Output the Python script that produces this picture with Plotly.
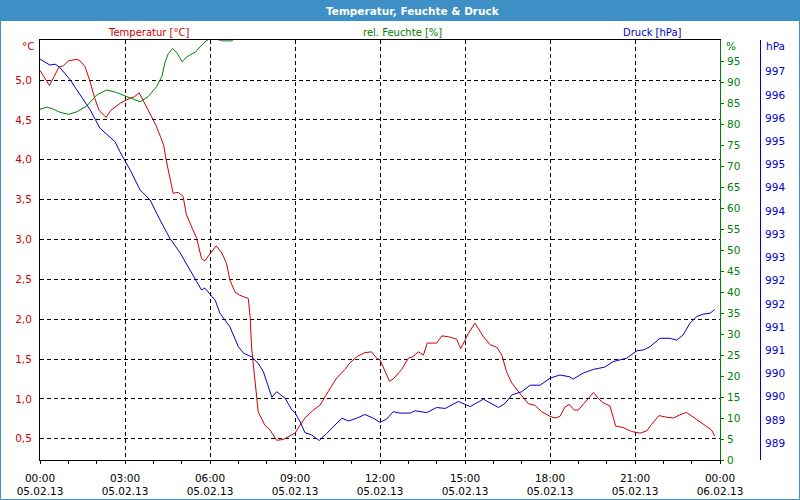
import pandas as pd
import plotly.graph_objects as go

DAY = "2013-02-05"

# ---------------- data ----------------
temp_times = [
    "00:00", "00:20", "00:40", "00:50", "01:00", "01:18", "01:25", "01:35", "01:45", "01:55",
    "02:05", "02:20", "02:30", "02:50", "03:10", "03:20", "03:30", "03:40", "03:50", "04:05",
    "04:15", "04:22", "04:27", "04:35", "04:42", "04:53", "05:03", "05:10", "05:21", "05:32",
    "05:42", "05:49", "06:00", "06:13", "06:25", "06:35", "06:42", "06:53", "07:03", "07:21",
    "07:25", "07:28", "07:33", "07:39", "07:42", "07:56", "08:07", "08:21", "08:35", "09:00",
    "09:21", "09:39", "09:53", "10:10", "10:28", "10:46", "10:56", "11:11", "11:28", "11:42",
    "11:53", "12:00", "12:20", "12:28", "12:46", "13:00", "13:10", "13:21", "13:32", "13:40",
    "14:00", "14:11", "14:25", "14:42", "14:51", "15:07", "15:21", "15:39", "15:53", "16:07",
    "16:18", "16:28", "16:39", "16:56", "17:14", "17:28", "17:42", "18:00", "18:11", "18:21",
    "18:32", "18:41", "18:51", "19:00", "19:18", "19:32", "19:42", "19:50", "20:07", "20:19",
    "20:35", "20:53", "21:11", "21:25", "21:35", "21:51", "22:07", "22:21", "22:35", "22:49",
    "23:11", "23:28", "23:42", "23:49",
]
temperature = [
    5.12, 4.93, 5.16, 5.18, 5.24, 5.26, 5.24, 5.17, 5.00, 4.79,
    4.62, 4.53, 4.62, 4.71, 4.77, 4.79, 4.84, 4.73, 4.62, 4.44,
    4.29, 4.18, 4.00, 3.75, 3.58, 3.59, 3.54, 3.31, 3.16, 3.01,
    2.76, 2.73, 2.82, 2.92, 2.83, 2.70, 2.49, 2.34, 2.30, 2.26,
    2.03, 1.65, 1.36, 1.03, 0.84, 0.67, 0.61, 0.48, 0.49, 0.57,
    0.76, 0.86, 0.92, 1.09, 1.26, 1.37, 1.45, 1.53, 1.58, 1.59,
    1.51, 1.49, 1.22, 1.25, 1.37, 1.51, 1.53, 1.59, 1.55, 1.70,
    1.70, 1.79, 1.78, 1.75, 1.63, 1.82, 1.95, 1.78, 1.68, 1.65,
    1.55, 1.34, 1.20, 1.07, 0.94, 0.92, 0.84, 0.78, 0.76, 0.78,
    0.90, 0.93, 0.86, 0.86, 0.99, 1.08, 1.01, 0.96, 0.91, 0.66,
    0.64, 0.59, 0.57, 0.60, 0.68, 0.79, 0.77, 0.76, 0.80, 0.83,
    0.74, 0.67, 0.61, 0.53,
]

hum_times = [
    "00:00", "00:14", "00:25", "00:42", "01:00", "01:18", "01:39", "02:00", "02:21", "02:42",
    "03:04", "03:32", "03:49", "04:07", "04:18", "04:25", "04:32", "04:41", "04:51", "05:01",
    "05:11", "05:30", "05:39", "05:52", "06:04", "06:25", "06:46", "06:55",
]
humidity = [
    83.5, 84.0, 83.7, 82.8, 82.3, 82.9, 84.3, 86.9, 88.1, 87.5,
    86.5, 85.3, 86.5, 88.9, 91.3, 94.8, 96.8, 98.0, 96.8, 94.8,
    96.0, 97.2, 98.4, 99.8, 100.6, 99.8, 99.8, 100.6,
]

press_times = [
    "00:00", "00:21", "00:32", "00:42", "01:04", "01:25", "01:46", "02:07", "02:28", "02:39",
    "02:49", "03:00", "03:11", "03:32", "03:53", "04:14", "04:35", "04:56", "05:18", "05:28",
    "05:42", "05:49", "06:11", "06:21", "06:42", "07:00", "07:11", "07:28", "07:42", "07:53",
    "08:11", "08:21", "08:39", "08:53", "09:00", "09:11", "09:21", "09:35", "09:51", "10:07",
    "10:25", "10:39", "10:53", "11:11", "11:28", "11:46", "12:00", "12:14", "12:28", "12:42",
    "13:04", "13:14", "13:39", "14:00", "14:18", "14:46", "15:11", "15:39", "15:53", "16:11",
    "16:25", "16:39", "17:00", "17:18", "17:39", "18:00", "18:21", "18:42", "18:49", "19:10",
    "19:32", "19:56", "20:14", "20:42", "21:04", "21:18", "21:32", "21:53", "22:14", "22:28",
    "22:42", "22:56", "23:11", "23:25", "23:39", "23:49",
]
pressure = [
    996.87, 996.74, 996.76, 996.69, 996.42, 996.10, 995.78, 995.38, 995.20, 995.09,
    994.88, 994.68, 994.48, 994.05, 993.84, 993.41, 993.01, 992.71, 992.31, 992.15,
    991.90, 991.94, 991.68, 991.40, 991.11, 990.68, 990.54, 990.46, 990.32, 990.14,
    989.59, 989.71, 989.57, 989.32, 989.26, 989.06, 988.83, 988.78, 988.66, 988.81,
    988.99, 989.14, 989.08, 989.14, 989.22, 989.14, 989.05, 989.12, 989.28, 989.25,
    989.25, 989.30, 989.26, 989.37, 989.35, 989.50, 989.39, 989.55, 989.47, 989.37,
    989.46, 989.64, 989.71, 989.85, 989.85, 990.00, 990.07, 990.03, 989.98, 990.11,
    990.19, 990.24, 990.36, 990.43, 990.59, 990.61, 990.68, 990.86, 990.86, 990.82,
    990.93, 991.18, 991.33, 991.38, 991.40, 991.48,
]

x_tick_times = ["2013-02-05 00:00", "2013-02-05 03:00", "2013-02-05 06:00", "2013-02-05 09:00",
                "2013-02-05 12:00", "2013-02-05 15:00", "2013-02-05 18:00", "2013-02-05 21:00",
                "2013-02-06 00:00"]
x_tick_text = ["00:00<br>05.02.13", "03:00<br>05.02.13", "06:00<br>05.02.13", "09:00<br>05.02.13",
               "12:00<br>05.02.13", "15:00<br>05.02.13", "18:00<br>05.02.13", "21:00<br>05.02.13",
               "00:00<br>06.02.13"]

temp_ticks = [0.5, 1.0, 1.5, 2.0, 2.5, 3.0, 3.5, 4.0, 4.5, 5.0]
temp_tick_text = ["0,5", "1,0", "1,5", "2,0", "2,5", "3,0", "3,5", "4,0", "4,5", "5,0"]

hum_ticks = [0, 5, 10, 15, 20, 25, 30, 35, 40, 45, 50, 55, 60, 65, 70, 75, 80, 85, 90, 95]
hum_tick_text = ["0", "5", "10", "15", "20", "25", "30", "35", "40", "45",
                 "50", "55", "60", "65", "70", "75", "80", "85", "90", "95"]

press_ticks = [988.6, 989.1, 989.6, 990.1, 990.6, 991.1, 991.6, 992.1, 992.6,
               993.1, 993.6, 994.1, 994.6, 995.1, 995.6, 996.1, 996.6]
press_tick_text = ["989", "989", "990", "990", "991", "991", "992", "992", "993",
                   "993", "994", "994", "995", "995", "996", "996", "997"]

# ---------------- styling ----------------
RED = "#cc0000"
GREEN = "#008000"
BLUE = "#0000cc"
BAR = "#3d8fc6"
FONT = "DejaVu Sans"

W, H = 800, 500
ML, MR, MT, MB = 40, 40, 40, 40
PW, PH = W - ML - MR, H - MT - MB


def px(x):
    return (x - ML) / PW


def py(y):
    return (H - MB - y) / PH


def ts(times, day=DAY):
    return pd.to_datetime([day + " " + t for t in times])


fig = go.Figure()
fig.add_trace(go.Scatter(x=ts(temp_times), y=temperature, mode="lines",
                         line=dict(color=RED, width=1), name="Temperatur", yaxis="y"))
fig.add_trace(go.Scatter(x=ts(hum_times), y=humidity, mode="lines",
                         line=dict(color=GREEN, width=1), name="rel. Feuchte", yaxis="y2"))
fig.add_trace(go.Scatter(x=ts(press_times), y=pressure, mode="lines",
                         line=dict(color=BLUE, width=1), name="Druck", yaxis="y3"))

minor_hours = [str(t) for t in pd.date_range("2013-02-05 00:00", "2013-02-06 00:00", freq="1h")]

fig.update_layout(
    width=W, height=H,
    margin=dict(l=ML, r=MR, t=MT, b=MB, pad=0, autoexpand=False),
    paper_bgcolor="white", plot_bgcolor="white",
    showlegend=False,
    font=dict(family=FONT, size=10, color="black"),
    xaxis=dict(
        domain=[0, (720 - ML) / PW], automargin=False,
        range=["2013-02-05 00:00", "2013-02-06 00:00"],
        tickmode="array", tickvals=x_tick_times, ticktext=x_tick_text,
        ticks="outside", ticklen=3, tickcolor="black", tickwidth=1,
        showline=True, linecolor="black", linewidth=1, mirror=True,
        showgrid=True, gridcolor="black", gridwidth=1, griddash="4px,3px",
        tickfont=dict(family=FONT, size=10.5, color="black"),
        ticklabelstandoff=5,
        minor=dict(tickmode="array", tickvals=minor_hours, ticks="outside",
                   ticklen=3, tickcolor="black", showgrid=False),
        zeroline=False,
    ),
    yaxis=dict(
        range=[0.233, 5.502], automargin=False,
        tickmode="array", tickvals=temp_ticks, ticktext=temp_tick_text,
        ticks="", showline=True, linecolor="black", linewidth=1,
        showgrid=True, gridcolor="black", gridwidth=1, griddash="4px,3px",
        tickfont=dict(family=FONT, size=10.5, color=RED),
        ticklabelstandoff=5, zeroline=False,
    ),
    yaxis2=dict(
        overlaying="y", anchor="x", side="right", automargin=False,
        range=[0, 100],
        tickmode="array", tickvals=hum_ticks, ticktext=hum_tick_text,
        ticks="outside", ticklen=3, tickcolor=GREEN,
        showline=True, linecolor=GREEN, linewidth=1,
        showgrid=False, zeroline=False,
        tickfont=dict(family=FONT, size=10.5, color=GREEN),
        ticklabelstandoff=1,
    ),
    yaxis3=dict(
        overlaying="y", anchor="free", position=1, side="right", automargin=False,
        range=[988.24, 997.28],
        tickmode="array", tickvals=press_ticks, ticktext=press_tick_text,
        ticks="", showline=True, linecolor=BLUE, linewidth=1,
        showgrid=False, zeroline=False,
        tickfont=dict(family=FONT, size=10.5, color=BLUE),
        ticklabelstandoff=2,
    ),
)

shapes = [
    dict(type="rect", xref="paper", yref="paper", x0=px(0), x1=px(W), y0=py(21), y1=py(0),
         fillcolor=BAR, line=dict(width=0), layer="above"),
    dict(type="rect", xref="paper", yref="paper", x0=px(0.5), x1=px(W - 0.5), y0=py(H - 0.5), y1=py(0.5),
         fillcolor="rgba(0,0,0,0)", line=dict(color=BAR, width=1), layer="above"),
]
fig.update_layout(shapes=shapes)

ann = [
    dict(text="<b>Temperatur, Feuchte &amp; Druck</b>", x=px(413), y=py(10.5), xanchor="center", yanchor="middle",
         font=dict(family=FONT, size=10.5, color="white")),
    dict(text="Temperatur [°C]", x=px(148), y=py(32), xanchor="center", yanchor="middle",
         font=dict(family=FONT, size=10, color=RED)),
    dict(text="rel. Feuchte [%]", x=px(402), y=py(32), xanchor="center", yanchor="middle",
         font=dict(family=FONT, size=10, color=GREEN)),
    dict(text="Druck [hPa]", x=px(652), y=py(32), xanchor="center", yanchor="middle",
         font=dict(family=FONT, size=10, color=BLUE)),
    dict(text="°C", x=px(37), y=py(46.5), xanchor="right", yanchor="middle",
         font=dict(family=FONT, size=10.5, color=RED)),
    dict(text="%", x=px(724), y=py(46.5), xanchor="left", yanchor="middle",
         font=dict(family=FONT, size=10.5, color=GREEN)),
    dict(text="hPa", x=px(764), y=py(46.5), xanchor="left", yanchor="middle",
         font=dict(family=FONT, size=10.5, color=BLUE)),
]
for a in ann:
    a.update(xref="paper", yref="paper", showarrow=False)
fig.update_layout(annotations=ann)

fig.write_html("out.html")
